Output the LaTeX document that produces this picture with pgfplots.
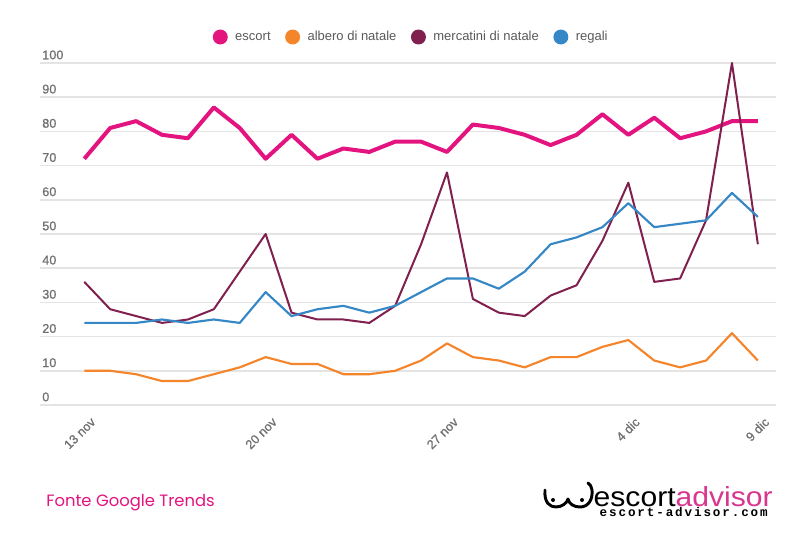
\documentclass[border=0pt]{standalone}
\usepackage{fontspec}
\setmainfont{Liberation Sans}
\newfontfamily\tickfont[FakeBold=0.8]{Liberation Sans}
\newfontfamily\footfont{Poppins}
\newfontfamily\logofont{Liberation Sans}
\newfontfamily\urlfont[LetterSpace=15]{Liberation Mono}
\usepackage{graphicx}
\usepackage{pgfplots}
\usepackage{pgfplotstable}
\pgfplotsset{compat=1.18}
\definecolor{cEsc}{HTML}{E3147F}
\definecolor{cAlb}{HTML}{F5852A}
\definecolor{cMer}{HTML}{80204F}
\definecolor{cReg}{HTML}{3587C6}
\definecolor{gridgray}{HTML}{E4E4E4}
\definecolor{tickgray}{HTML}{707070}
\definecolor{leggray}{HTML}{5A5A5A}
\definecolor{logopink}{HTML}{D8368F}

\pgfplotstableread{
day esc alb mer reg
0  72 10 36 24
1  81 10 28 24
2  83  9 26 24
3  79  7 24 25
4  78  7 25 24
5  87  9 28 25
6  81 11 39 24
7  72 14 50 33
8  79 12 27 26
9  72 12 25 28
10 75  9 25 29
11 74  9 24 27
12 77 10 29 29
13 77 13 47 33
14 74 18 68 37
15 82 14 31 37
16 81 13 27 34
17 79 11 26 39
18 76 14 32 47
19 79 14 35 49
20 85 17 48 52
21 79 19 65 59
22 84 13 36 52
23 78 11 37 53
24 80 13 54 54
25 83 21 100 62
26 83 13 47 55
}\trends

\begin{document}
\begin{tikzpicture}
\useasboundingbox (0,0) rectangle (600pt,404.25pt);
\fill[white] (0,0) rectangle (600pt,404.25pt);
\begin{axis}[
  at={(30pt,100.5pt)}, anchor=south west,
  scale only axis, width=552pt, height=256.5pt,
  xmin=-1.71, xmax=26.7, ymin=0, ymax=100,
  axis line style={draw=none},
  major tick length=0pt,
  ytick={0,10,...,100},
  ymajorgrids, grid style={draw=gridgray, line width=1.2pt},
  xtick={0,7,14,21,26},
  xticklabels={13 nov,20 nov,27 nov,4 dic,9 dic},
  /pgf/number format/assume math mode=true,
  yticklabel style={anchor=south west, inner sep=0pt, xshift=1.5pt, yshift=2.5pt,
    font=\tickfont\fontsize{9.5}{10}\selectfont, text=tickgray},
  xticklabel style={rotate=45, anchor=north east, inner sep=0pt, xshift=-3pt, yshift=-9pt,
    font=\tickfont\fontsize{9.5}{10}\selectfont, text=tickgray},
  legend columns=4,
  legend style={at={(0.503,1.076)}, anchor=center, draw=none, fill=none,
    font=\fontsize{9.75}{11}\selectfont, text=leggray,
    nodes={inner sep=0pt},
    /tikz/every odd column/.append style={column sep=5.6pt},
    /tikz/every even column/.append style={column sep=10.9pt}},
  legend image code/.code={\fill[draw=none] (5.6pt,0pt) circle (5.6pt);},
  clip=false,
]
\addplot[color=cEsc, line width=3pt, line join=round, no markers] table[x=day, y=esc] {\trends};
\addlegendentry{escort}
\addplot[color=cAlb, line width=1.6pt, line join=round, no markers] table[x=day, y=alb] {\trends};
\addlegendentry{albero di natale}
\addplot[color=cMer, line width=1.5pt, line join=round, no markers] table[x=day, y=mer] {\trends};
\addlegendentry{mercatini di natale}
\addplot[color=cReg, line width=1.6pt, line join=round, no markers] table[x=day, y=reg] {\trends};
\addlegendentry{regali}
\end{axis}

\node[anchor=base west, inner sep=0pt, font=\footfont\fontsize{12.3}{14}\selectfont, text=cEsc]
  at (34.5pt, 24pt) {Fonte Google Trends};
\node[anchor=base east, inner sep=0pt] at (579.75pt, 24pt)
  {\resizebox{134.25pt}{15pt}{\logofont escort\textcolor{logopink}{advisor}}};
\node[anchor=base east, inner sep=0pt] at (576pt, 16.5pt)
  {\resizebox{126pt}{!}{\urlfont\bfseries escort-advisor.com}};
\begin{scope}[shift={(0,404.25pt)}, x=0.75pt, y=-0.75pt]
  \draw[line width=2.2pt, line cap=round, line join=round]
    (545,490) .. controls (544,503) and (550,507) .. (556,507)
    .. controls (562,507) and (567,503) .. (568,499)
    .. controls (569,504) and (574,507) .. (580,507)
    .. controls (588,507) and (593,500) .. (592,490)
    .. controls (591,486) and (590,484) .. (588,483);
  \fill (553,500) circle (2);
  \fill (582,500) circle (2);
\end{scope}
\end{tikzpicture}
\end{document}
